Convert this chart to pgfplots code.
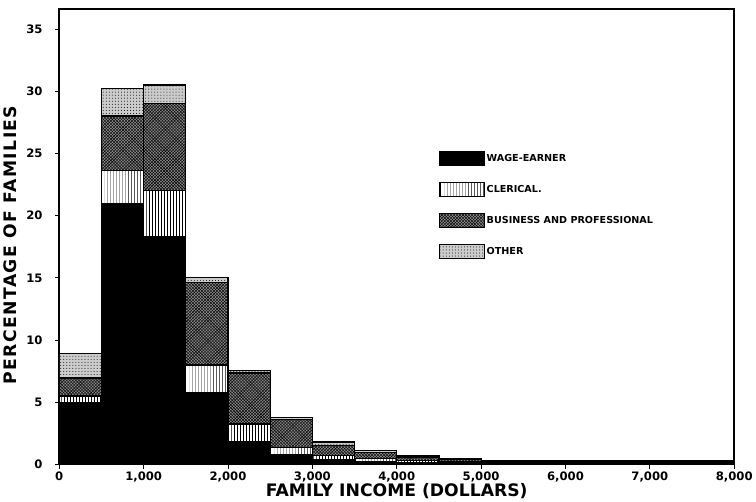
\documentclass[border=0pt]{standalone}
\usepackage{fontspec}
\setmainfont{DejaVu Sans}
\usepackage{pgfplots}
\pgfplotsset{compat=1.18}
\usetikzlibrary{patterns}
\begin{document}
\begin{tikzpicture}
\begin{axis}[
  scale only axis,
  width=667pt, height=450pt,
  xmin=0, xmax=8000, ymin=0, ymax=36.6,
  ybar stacked, bar width=500, bar shift=0pt,
  xtick={0,1000,...,8000},
  xticklabels={0,{1,000},{2,000},{3,000},{4,000},{5,000},{6,000},{7,000},{8,000}},
  ytick={0,5,...,35},
  tick align=outside,
  xtick pos=bottom, ytick pos=left,
  major tick length=4pt,
  tick style={black, line width=0.8pt},
  axis line style={line width=1.6pt},
  ticklabel style={font=\bfseries\fontsize{11.5}{12}\selectfont},
  /pgf/number format/assume math mode=true,
  xlabel={\bfseries\fontsize{17}{18}\selectfont FAMILY INCOME (DOLLARS)},
  ylabel={\bfseries\fontsize{17}{18}\selectfont\addfontfeatures{LetterSpace=8} PERCENTAGE OF FAMILIES},
  xlabel style={yshift=6pt},
  ylabel style={yshift=3pt, xshift=-8pt},
  yticklabel style={xshift=-9pt},
  legend style={draw=none, at={(0.558,0.693)}, anchor=north west,
    font=\bfseries\fontsize{9.5}{10}\selectfont, row sep=15.5pt, fill=none},
  legend cell align=left,
  legend image code/.code={\draw[#1, line width=1pt] (0pt,-7pt) rectangle (44pt,7pt);},
]
\addplot[fill=black, draw=black, line width=1.2pt] coordinates {
 (250,5.0) (750,21.0) (1250,18.3) (1750,5.75) (2250,1.8) (2750,0.8) (3250,0.4) (3750,0.25) (4250,0.15) (4750,0.1)
 (5250,0.05) (5750,0.05) (6250,0.05) (6750,0.05) (7250,0.05) (7750,0.05)};
\addlegendentry{WAGE-EARNER}
\addplot[fill=white, draw=black, line width=1.2pt, pattern=vertical lines] coordinates {
 (250,0.5) (750,2.65) (1250,3.75) (1750,2.25) (2250,1.45) (2750,0.55) (3250,0.3) (3750,0.2) (4250,0.15) (4750,0.1)
 (5250,0.1) (5750,0.1) (6250,0.1) (6750,0.1) (7250,0.1) (7750,0.1)};
\addlegendentry{CLERICAL.}
\addplot[fill=black!45, draw=black, line width=1.2pt, postaction={pattern=crosshatch}] coordinates {
 (250,1.45) (750,4.35) (1250,6.95) (1750,6.6) (2250,4.1) (2750,2.25) (3250,0.8) (3750,0.5) (4250,0.3) (4750,0.2)
 (5250,0.1) (5750,0.1) (6250,0.1) (6750,0.1) (7250,0.1) (7750,0.1)};
\addlegendentry{BUSINESS AND PROFESSIONAL}
\addplot[fill=black!20, draw=black, line width=1.2pt, postaction={pattern=dots}] coordinates {
 (250,1.95) (750,2.2) (1250,1.5) (1750,0.4) (2250,0.2) (2750,0.2) (3250,0.3) (3750,0.15) (4250,0.1) (4750,0.1)
 (5250,0.1) (5750,0.1) (6250,0.1) (6750,0.1) (7250,0.1) (7750,0.1)};
\addlegendentry{OTHER}
\end{axis}
\path ([yshift=9pt]current axis.north west) ([xshift=4pt]current axis.north east);
\end{tikzpicture}
\end{document}
